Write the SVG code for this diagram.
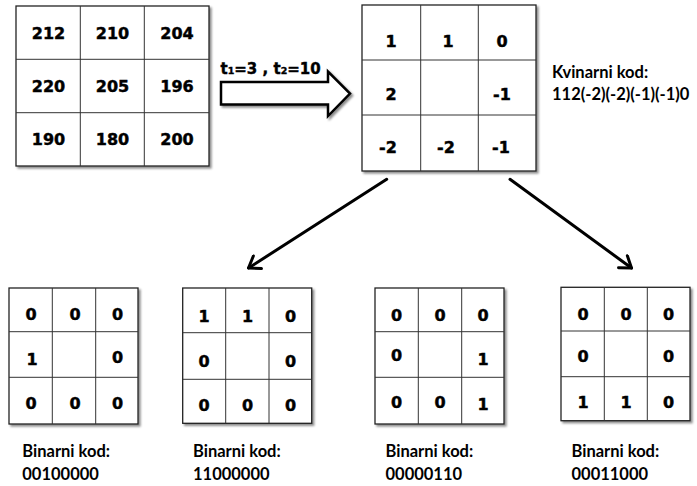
<svg xmlns="http://www.w3.org/2000/svg" width="697" height="486" viewBox="0 0 697 486">
<style>
.bg{fill:#ffffff}
.cell{fill:#ffffff;stroke:#222;stroke-width:1.3}
.gl{stroke:#333;stroke-width:1;fill:none}
.d{font-family:"DejaVu Sans",Verdana,sans-serif;font-weight:bold;font-size:16px;fill:#000;stroke:#000;stroke-width:0.45;text-anchor:middle}
.lbl{font-family:Lato,"Liberation Sans",sans-serif;font-weight:bold;font-size:16.5px;fill:#000}
.t{font-family:"DejaVu Sans",Verdana,sans-serif;font-weight:bold;font-size:15px;fill:#000;stroke:#000;stroke-width:0.4}
.conn{stroke:#000;stroke-width:3;fill:none;stroke-linecap:round}
</style>
<defs>
<filter id="sh" x="-10%" y="-10%" width="130%" height="130%">
<feDropShadow dx="2" dy="2" stdDeviation="1.2" flood-color="#000" flood-opacity="0.45"/>
</filter>
<marker id="ah" viewBox="0 0 18 18" refX="15" refY="9" markerWidth="18" markerHeight="18" markerUnits="userSpaceOnUse" orient="auto">
<path d="M4.4,1.5 L15,9 L4.4,16.5" fill="none" stroke="#000" stroke-width="3" stroke-linecap="round" stroke-linejoin="round"/>
</marker>
</defs>
<rect class="bg" x="0" y="0" width="697" height="486"/>

<g id="grid-input">
<rect class="cell" x="16" y="6" width="193" height="160" filter="url(#sh)"/>
<path class="gl" d="M80.3,6V166M144.3,6V166M16,59.3H209M16,112.7H209"/>
<text class="d" x="48.5" y="38.5">212</text>
<text class="d" x="112.5" y="38.5">210</text>
<text class="d" x="177" y="38.5">204</text>
<text class="d" x="48.5" y="91.7">220</text>
<text class="d" x="112.5" y="91.7">205</text>
<text class="d" x="177" y="91.7">196</text>
<text class="d" x="48.5" y="144.5">190</text>
<text class="d" x="112.5" y="144.5">180</text>
<text class="d" x="177" y="144.5">200</text>
</g>

<g id="grid-quinary">
<rect class="cell" x="362" y="5" width="174" height="166" filter="url(#sh)"/>
<path class="gl" d="M420.7,5V171M478.3,5V171M362,60H536M362,115H536"/>
<text class="d" x="391" y="47">1</text>
<text class="d" x="448" y="47">1</text>
<text class="d" x="502" y="47">0</text>
<text class="d" x="391" y="99.5">2</text>
<text class="d" x="502" y="99.5">-1</text>
<text class="d" x="388" y="153">-2</text>
<text class="d" x="446" y="153">-2</text>
<text class="d" x="501" y="153">-1</text>
<text class="lbl" x="552" y="77.7">Kvinarni kod:</text>
<text class="lbl" x="552" y="99.5">112(-2)(-2)(-1)(-1)0</text>
</g>

<g id="grid-b1">
<rect class="cell" x="9" y="288" width="129" height="136" filter="url(#sh)"/>
<path class="gl" d="M52.3,288V424M95.7,288V424M9,331.7H138M9,377.3H138"/>
<text class="d" x="31" y="320">0</text>
<text class="d" x="75" y="320">0</text>
<text class="d" x="117.5" y="320">0</text>
<text class="d" x="32" y="365">1</text>
<text class="d" x="117.5" y="362.5">0</text>
<text class="d" x="31" y="409">0</text>
<text class="d" x="75" y="409">0</text>
<text class="d" x="117.5" y="409">0</text>
<text class="lbl" x="22.3" y="457">Binarni kod:</text>
<text class="lbl" x="22.3" y="479.5">00100000</text>
</g>

<g id="grid-b2">
<rect class="cell" x="182.7" y="288" width="129" height="135.3" filter="url(#sh)"/>
<path class="gl" d="M225.7,288V423.3M269,288V423.3M182.7,332.7H311.7M182.7,379.3H311.7"/>
<text class="d" x="204" y="321.5">1</text>
<text class="d" x="247.5" y="321.5">1</text>
<text class="d" x="290.5" y="321.5">0</text>
<text class="d" x="204" y="366.5">0</text>
<text class="d" x="290.5" y="366.5">0</text>
<text class="d" x="204" y="410.5">0</text>
<text class="d" x="247.5" y="410.5">0</text>
<text class="d" x="290.5" y="410.5">0</text>
<text class="lbl" x="193" y="457">Binarni kod:</text>
<text class="lbl" x="193" y="479.5">11000000</text>
</g>

<g id="grid-b3">
<rect class="cell" x="375" y="288" width="129" height="136" filter="url(#sh)"/>
<path class="gl" d="M418.3,288V424M461.7,288V424M375,331.7H504M375,377.3H504"/>
<text class="d" x="396.5" y="320.5">0</text>
<text class="d" x="440" y="320.5">0</text>
<text class="d" x="483" y="320.5">0</text>
<text class="d" x="396.5" y="360.5">0</text>
<text class="d" x="483" y="365">1</text>
<text class="d" x="396.5" y="407.5">0</text>
<text class="d" x="440" y="407.5">0</text>
<text class="d" x="483" y="410">1</text>
<text class="lbl" x="385.5" y="457">Binarni kod:</text>
<text class="lbl" x="385.5" y="479.5">00000110</text>
</g>

<g id="grid-b4">
<rect class="cell" x="561" y="287.3" width="129" height="133.4" filter="url(#sh)"/>
<path class="gl" d="M604.3,287.3V420.7M647.3,287.3V420.7M561,331H690M561,376.7H690"/>
<text class="d" x="583" y="320">0</text>
<text class="d" x="626" y="320">0</text>
<text class="d" x="668.5" y="320">0</text>
<text class="d" x="583" y="361.7">0</text>
<text class="d" x="668.5" y="361.7">0</text>
<text class="d" x="583" y="408.3">1</text>
<text class="d" x="626" y="408.3">1</text>
<text class="d" x="668.5" y="408.3">0</text>
<text class="lbl" x="571.5" y="457">Binarni kod:</text>
<text class="lbl" x="571.5" y="479.5">00011000</text>
</g>

<g id="connectors">
<path d="M221,82H328V71.5L350,93.5L328,116V104.5H221Z" fill="#fff" stroke="#000" stroke-width="2.5" stroke-linejoin="miter" filter="url(#sh)"/>
<text class="t" x="220.5" y="74">t<tspan font-size="9.5">1</tspan>=3 , t<tspan font-size="9.5">2</tspan>=10</text>
<path class="conn" d="M386.7,179.3L248.5,268" marker-end="url(#ah)"/>
<path class="conn" d="M510,179.3L631.5,268" marker-end="url(#ah)"/>
</g>
</svg>
